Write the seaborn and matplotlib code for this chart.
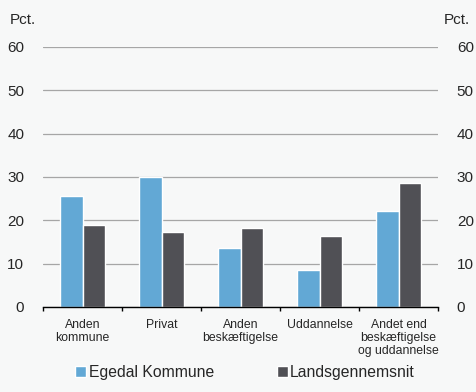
import pandas as pd
import numpy as np
import matplotlib.pyplot as plt
import seaborn as sns

# Data
kategorier = ["Anden\nkommune", "Privat", "Anden\nbeskæftigelse", "Uddannelse",
              "Andet end\nbeskæftigelse\nog uddannelse"]
egedal = [25.7, 30.0, 13.6, 8.5, 22.1]
lands = [19.0, 17.3, 18.3, 16.3, 28.7]
serier = ["Egedal Kommune", "Landsgennemsnit"]
yticks = [0, 10, 20, 30, 40, 50, 60]

df = pd.DataFrame({
    "kategori": kategorier * 2,
    "serie": [serier[0]] * 5 + [serier[1]] * 5,
    "pct": egedal + lands,
})

sns.set_style("white")
plt.rcParams["font.family"] = ["Liberation Sans", "DejaVu Sans"]
bg = "#f7f8f8"

fig = plt.figure(figsize=(4.76, 3.92), dpi=100, facecolor=bg)
ax = fig.add_axes([43 / 476, 1 - 307 / 392, 395 / 476, 260 / 392], facecolor=bg)

sns.barplot(data=df, x="kategori", y="pct", hue="serie", order=kategorier,
            hue_order=serier, palette=["#62a8d5", "#505055"], width=0.57,
            gap=0, saturation=1, ax=ax, legend=True)

ax.set_ylim(0, 60)
ax.set_xlim(-0.5, 4.5)
ax.set_yticks(yticks)
ax.yaxis.grid(True, color="#a6a6a6", linewidth=0.9)
ax.set_axisbelow(True)
for s in ["top", "left", "right"]:
    ax.spines[s].set_visible(False)
ax.spines["bottom"].set_color("black")
ax.spines["bottom"].set_linewidth(1.0)

ax.set_xlabel("")
ax.set_ylabel("")
ax.tick_params(axis="y", left=False, right=False, labelleft=True, labelright=True,
               labelsize=11, pad=10)
ax.set_xticks(np.arange(len(kategorier)))
ax.set_xticklabels(kategorier, fontsize=8.8, linespacing=1.1)
ax.tick_params(axis="x", bottom=False, pad=5)
# small tick marks at category boundaries
ax.set_xticks(np.arange(-0.5, 5, 1), minor=True)
ax.tick_params(axis="x", which="minor", bottom=True, length=3, width=1, color="black")

fig.text(10 / 476, 1 - 20 / 392, "Pct.", fontsize=11, va="center", ha="left")
fig.text(470 / 476, 1 - 20 / 392, "Pct.", fontsize=11, va="center", ha="right")

h, l = ax.get_legend_handles_labels()
ax.legend(h, l, loc="center", bbox_to_anchor=(245 / 476, (392 - 372) / 392),
          bbox_transform=fig.transFigure, ncol=2, frameon=False, fontsize=11.3,
          handlelength=0.7, handleheight=0.7, handletextpad=0.15, columnspacing=4.0)

fig.savefig("out.png", dpi=100, facecolor=bg)
